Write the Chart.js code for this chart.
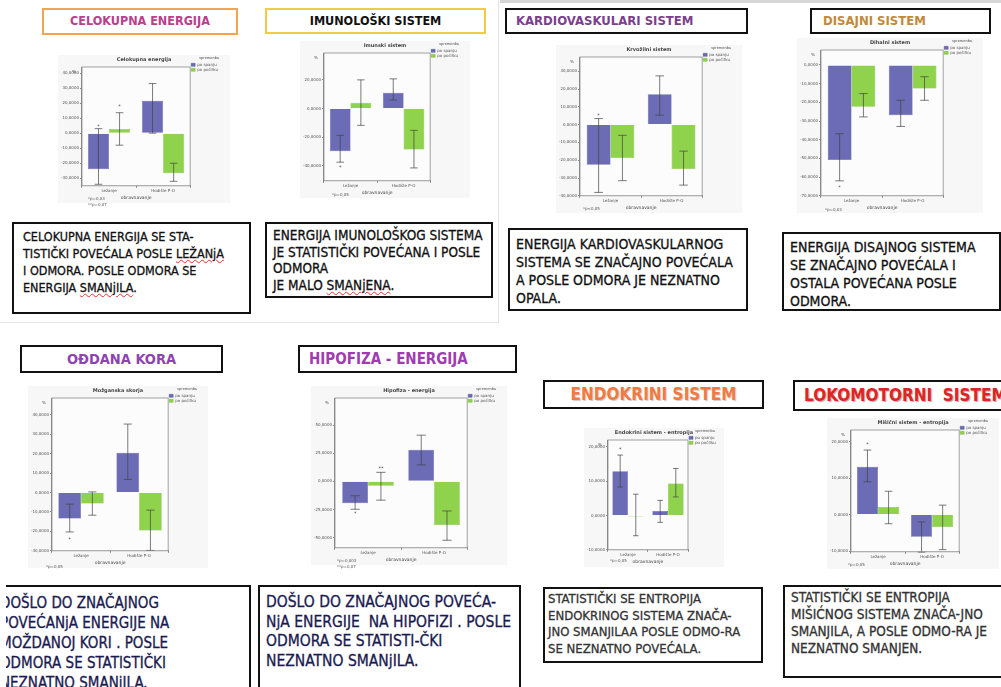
<!DOCTYPE html>
<html>
<head>
<meta charset="utf-8">
<script src="https://cdn.jsdelivr.net/npm/chart.js@4.4.0/dist/chart.umd.min.js"></script>
<style>
  body { margin: 0; background: #fff; }
  #page { position: relative; width: 1001px; height: 687px; overflow: hidden; background: #fff; }
  .head, .note, .plot, .foot { position: absolute; box-sizing: border-box; }
  .head {
    border: 2px solid #111; background: #fff; text-align: center; white-space: nowrap; overflow: hidden;
    font-family: "DejaVu Sans Condensed", "Noto Sans", sans-serif; font-size: 12.5px; font-weight: bold; line-height: 22px;
  }
  .note {
    border: 2.5px solid #111; background: #fff; white-space: nowrap; overflow: hidden;
    font-family: "DejaVu Sans Condensed", "Noto Sans", sans-serif; font-size: 12px; color: #111;
    padding: 4px 0 0 9px; line-height: 17px; -webkit-text-stroke: 0.3px;
  }
  .plot { background: #f7f7f7; }
  .foot { font-family: "DejaVu Sans", sans-serif; font-size: 4px; color: #555; line-height: 6px; white-space: nowrap; }
  .sp { text-decoration: underline wavy #d33; text-decoration-thickness: 1px; }
</style>
</head>
<body>
<div id="page">
  <div style="position:absolute;left:0;top:0;width:499px;height:323px;border-right:1px solid #e4e4e4;border-bottom:1px solid #e4e4e4;box-sizing:border-box"></div>
  <div style="position:absolute;left:500px;top:0;width:501px;height:3px;background:#d6d6d6"></div>

  <!-- titles -->
  <div class="head" style="left:42px;top:8px;width:196px;height:27px;border-color:#f2a456;color:#b8408c">CELOKUPNA ENERGIJA</div>
  <div class="head" style="left:265px;top:8px;width:221px;height:26px;border-color:#f3c84c;color:#111">IMUNOLOŠKI SISTEM</div>
  <div class="head" style="left:505px;top:8px;width:243px;height:26px;color:#7b3f8c;text-align:left;padding-left:9px;font-size:13px">KARDIOVASKULARI SISTEM</div>
  <div class="head" style="left:810px;top:8px;width:181px;height:26px;color:#c08a3a;text-align:left;padding-left:11px;font-size:13px">DISAJNI SISTEM</div>
  <div class="head" style="left:20px;top:345px;width:203px;height:28px;color:#8e44b0;line-height:24px;font-size:14.5px">OĐDANA KORA</div>
  <div class="head" style="left:298px;top:345px;width:219px;height:28px;color:#a03cb0;text-align:left;padding-left:9px;line-height:24px;font-size:15px">HIPOFIZA - ENERGIJA</div>
  <div class="head" style="left:543px;top:380px;width:221px;height:29px;color:#f27a42;font-size:17px;line-height:25px;text-shadow:1px 1px 1px #ccc">ENDOKRINI SISTEM</div>
  <div class="head" style="left:793px;top:380px;width:212px;height:31px;color:#e02424;font-size:17px;line-height:27px;text-align:left;padding-left:9px;text-shadow:1px 1px 1px #aaa">LOKOMOTORNI&nbsp; SISTEM</div>

  <!-- chart holders -->
  <div class="plot" style="left:58px;top:55px;width:172px;height:148px"><canvas id="c0"></canvas></div>
  <div class="plot" style="left:300px;top:41px;width:170px;height:157px"><canvas id="c1"></canvas></div>
  <div class="plot" style="left:556px;top:45px;width:186px;height:168px"><canvas id="c2"></canvas></div>
  <div class="plot" style="left:797px;top:38px;width:186px;height:175px"><canvas id="c3"></canvas></div>
  <div class="plot" style="left:28px;top:386px;width:180px;height:182px"><canvas id="c4"></canvas></div>
  <div class="plot" style="left:311px;top:386px;width:196px;height:179px"><canvas id="c5"></canvas></div>
  <div class="plot" style="left:584px;top:428px;width:140px;height:139px"><canvas id="c6"></canvas></div>
  <div class="plot" style="left:827px;top:418px;width:172px;height:151px"><canvas id="c7"></canvas></div>

  <!-- footnotes under the charts -->
  <div class="foot" style="left:88px;top:196px">*p=0,03<br>**p=0,07</div>
  <div class="foot" style="left:332px;top:192px">*p=0,05</div>
  <div class="foot" style="left:583px;top:206px">*p&lt;0,05</div>
  <div class="foot" style="left:825px;top:207px">*p=0,03</div>
  <div class="foot" style="left:46px;top:564px">*p=0,05</div>
  <div class="foot" style="left:337px;top:558px">*p=0,003<br>**p=0,07</div>
  <div class="foot" style="left:610px;top:558px">*p=0,05</div>
  <div class="foot" style="left:848px;top:562px">*p=0,05</div>

  <!-- comment boxes -->
  <div class="note" style="left:12px;top:222px;width:239px;height:92px;font-size:12.5px">CELOKUPNA ENERGIJA SE STA-<br>TISTIČKI POVEĆALA POSLE <span class="sp">LEŽANjA</span><br>I ODMORA. POSLE ODMORA SE<br>ENERGIJA <span class="sp">SMANjILA</span>.</div>
  <div class="note" style="left:265px;top:222px;width:228px;height:76px;font-size:13.5px;line-height:16.5px;padding-top:3px;padding-left:6px">ENERGIJA IMUNOLOŠKOG SISTEMA<br>JE STATISTIČKI POVEĆANA I POSLE<br>ODMORA<br>JE MALO <span class="sp">SMANjENA</span>.</div>
  <div class="note" style="left:508px;top:228px;width:240px;height:83px;font-size:14px;line-height:18px;padding-top:5px;padding-left:6px">ENERGIJA KARDIOVASKULARNOG<br>SISTEMA SE ZNAČAJNO POVEĆALA<br>A POSLE ODMORA JE NEZNATNO<br>OPALA.</div>
  <div class="note" style="left:782px;top:232px;width:219px;height:79px;font-size:14px;line-height:18px;padding-top:4px;padding-left:6px">ENERGIJA DISAJNOG SISTEMA<br>SE ZNAČAJNO POVEĆALA I<br>OSTALA POVEĆANA POSLE<br>ODMORA.</div>
  <div class="note" style="left:-6px;top:585px;width:257px;height:110px;font-size:15px;line-height:20px;padding-left:4px;padding-top:6px;color:#1a1a50">DOŠLO DO ZNAČAJNOG<br>POVEĆANjA ENERGIJE NA<br>MOŽDANOJ KORI . POSLE<br>ODMORA SE STATISTIČKI<br>NEZNATNO SMANjILA.</div>
  <div style="position:absolute;left:0;top:580px;width:6px;height:107px;background:#fff"></div>
  <div class="note" style="left:258px;top:585px;width:263px;height:110px;font-size:15.5px;line-height:19.5px;padding-left:6px;padding-top:6px;color:#1a1a50">DOŠLO DO ZNAČAJNOG POVEĆA-<br>NjA ENERGIJE&nbsp; NA HIPOFIZI . POSLE<br>ODMORA SE STATISTI-ČKI<br>NEZNATNO SMANjILA.</div>
  <div class="note" style="left:543px;top:587px;width:220px;height:76px;font-size:13px;line-height:16.5px;padding-left:3px;padding-top:2px;color:#333">STATISTIČKI SE ENTROPIJA<br>ENDOKRINOG SISTEMA ZNAČA-<br>JNO SMANJILAA POSLE ODMO-RA<br>SE NEZNATNO POVEĆALA.</div>
  <div class="note" style="left:783px;top:585px;width:222px;height:93px;font-size:13.5px;line-height:17px;padding-left:6px;padding-top:2px;color:#333">STATISTIČKI SE ENTROPIJA<br>MIŠIĆNOG SISTEMA ZNAČA-JNO<br>SMANJILA, A POSLE ODMO-RA JE<br>NEZNATNO SMANJEN.</div>
</div>

<script>
// shared labels
const categories = ['Ležanje', 'Hodište P-O'];
const seriesNames = ['po spanju', 'po počitku'];
const chartTitles = ['Celokupna energija', 'Imunski sistem', 'Krvožilni sistem', 'Dihalni sistem',
  'Možganska skorja', 'Hipofiza - energija', 'Endokrini sistem - entropija', 'Mišični sistem - entropija'];

// bar heights (means), one pair per chart: [ležanje, hodište]
const spanjeMean  = [[-24, 21.6], [-29.9, 11], [-22.5, 17], [-50.8, -26.9], [-13.4, 20.5], [-19.4, 28], [12.9, 1.3], [13.1, -6.1]];
const pocitekMean = [[2.7, -26.6], [4, -28.7], [-18.7, -24.9], [-22.4, -12.6], [-5.7, -19.5], [-3.9, -38.8], [-0.3, 9.3], [2.1, -3.4]];

// error bar ends
const spanjeLow   = [[-34, 0], [-37.6, 5.9], [-38.1, 5.3], [-62, -32.9], [-20.3, 6.7], [-24.8, 14.6], [8.3, -2], [9, -10.3]];
const spanjeHigh  = [[3, 33], [-18.8, 20.7], [3.4, 27.4], [-36.8, -18.9], [-6, 35.2], [-12.8, 41], [17.6, 4.4], [17.7, -2]];
const pocitekLow  = [[-8, -32], [-11.8, -41.6], [-31.5, -34], [-27.8, -18.9], [-11.7, -29.8], [-16.7, -52.3], [-5.9, 5.4], [-2.5, -9.6]];
const pocitekHigh = [[13.6, -20], [20, -15.3], [-6, -14.9], [-15.3, -6.3], [0.3, -9.1], [8, -26.3], [6.2, 13.7], [6.4, 2.6]];

// outlier stars: [series, category, value, mark]
const starMarks = [
  [[0, 0, 5, '*'], [1, 0, 18, '*']],
  [[0, 0, -41, '*']],
  [[0, 0, 5.5, '*']],
  [[0, 0, -65, '*']],
  [[0, 0, -24, '*']],
  [[0, 0, -28, '*'], [1, 0, 12, '**']],
  [[0, 0, 19.5, '*']],
  [[0, 0, 19.5, '*']]
];

// y axes
const yMin = [-35, -50.6, -40, -70, -30, -59, -10, -10.2];
const yMax = [44, 38.8, 38, 8, 48.6, 74, 22, 23.2];
const yTicks = [
  [40, 30, 20, 10, 0, -10, -20, -30],
  [20, 0, -20, -40],
  [30, 20, 10, 0, -10, -20, -30, -40],
  [0, -10, -20, -30, -40, -50, -60, -70],
  [40, 30, 20, 10, 0, -10, -20, -30],
  [50, 25, 0, -25, -50],
  [20, 10, 0, -10],
  [20, 10, 0, -10]
];

const BLUE = '#6b6bb6';
const GREEN = '#8fd24c';

const spssExtras = {
  id: 'spssExtras',
  beforeDatasetsDraw(chart) {
    const { ctx, chartArea: a } = chart;
    ctx.save();
    ctx.fillStyle = '#fcfcfc';
    ctx.fillRect(a.left, a.top, a.width, a.height);
    ctx.restore();
  },
  afterDatasetsDraw(chart, args, opts) {
    const k = opts.index;
    const { ctx, chartArea: a } = chart;
    const y = chart.scales.y;
    const lows = [spanjeLow[k], pocitekLow[k]];
    const highs = [spanjeHigh[k], pocitekHigh[k]];
    ctx.save();
    ctx.strokeStyle = '#444';
    ctx.lineWidth = 0.7;
    chart.data.datasets.forEach((ds, d) => {
      chart.getDatasetMeta(d).data.forEach((bar, j) => {
        const yl = y.getPixelForValue(lows[d][j]);
        const yh = y.getPixelForValue(highs[d][j]);
        const cap = bar.width * 0.18;
        ctx.beginPath();
        ctx.moveTo(bar.x, yl); ctx.lineTo(bar.x, yh);
        ctx.moveTo(bar.x - cap, yl); ctx.lineTo(bar.x + cap, yl);
        ctx.moveTo(bar.x - cap, yh); ctx.lineTo(bar.x + cap, yh);
        ctx.stroke();
      });
    });
    ctx.fillStyle = '#444';
    ctx.font = '5px DejaVu Sans';
    ctx.textAlign = 'center';
    ctx.textBaseline = 'middle';
    starMarks[k].forEach(([d, j, v, mark]) => {
      const bar = chart.getDatasetMeta(d).data[j];
      ctx.fillText(mark, bar.x, y.getPixelForValue(v) + 1);
    });
    // frame + unit label
    ctx.strokeStyle = '#8a8a8a';
    ctx.lineWidth = 0.8;
    ctx.strokeRect(a.left, a.top, a.width, a.height);
    ctx.font = '4px DejaVu Sans';
    ctx.textAlign = 'right';
    ctx.fillText('%', a.left - 6, a.top + 5);
    ctx.restore();
  }
};

function drawPanel(k) {
  new Chart(document.getElementById('c' + k), {
    type: 'bar',
    data: {
      labels: categories,
      datasets: [
        { label: seriesNames[0], data: spanjeMean[k], backgroundColor: BLUE, borderColor: '#56569a', borderWidth: 0.5 },
        { label: seriesNames[1], data: pocitekMean[k], backgroundColor: GREEN, borderColor: '#78b83c', borderWidth: 0.5 }
      ]
    },
    options: {
      responsive: true,
      maintainAspectRatio: false,
      animation: false,
      categoryPercentage: 0.78,
      barPercentage: 1,
      layout: { padding: { left: 2, right: 2, top: 0, bottom: 1 } },
      plugins: {
        title: { display: true, text: chartTitles[k], color: '#444', font: { size: 5, family: 'DejaVu Sans' }, padding: { top: 2, bottom: 4 } },
        legend: {
          position: 'right',
          align: 'start',
          title: { display: true, text: 'spremenba', color: '#555', font: { size: 4 }, padding: 1 },
          labels: { boxWidth: 4, boxHeight: 3, padding: 1, color: '#555', font: { size: 4, family: 'DejaVu Sans' } }
        },
        tooltip: { enabled: false },
        spssExtras: { index: k }
      },
      scales: {
        x: {
          grid: { display: true, drawOnChartArea: false, tickLength: 2, color: '#888' },
          border: { color: '#888' },
          ticks: { color: '#555', font: { size: 4, family: 'DejaVu Sans' }, padding: 1 },
          title: { display: true, text: 'obravnavanje', color: '#444', font: { size: 4.5, family: 'DejaVu Sans' }, padding: 1 }
        },
        y: {
          min: yMin[k],
          max: yMax[k],
          afterBuildTicks: s => { s.ticks = yTicks[k].map(v => ({ value: v })); },
          grid: { display: true, drawOnChartArea: false, tickLength: 2, color: '#888' },
          border: { color: '#888' },
          ticks: { color: '#555', font: { size: 4, family: 'DejaVu Sans' }, padding: 1,
            callback: v => v.toFixed(4).replace('.', ',') }
        }
      }
    },
    plugins: [spssExtras]
  });
}

for (let k = 0; k < 8; k++) drawPanel(k);
</script>
</body>
</html>
